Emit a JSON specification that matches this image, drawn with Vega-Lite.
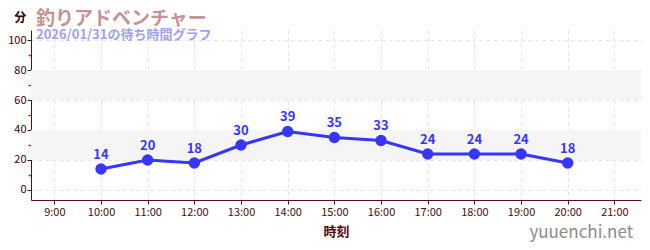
{
  "$schema": "https://vega.github.io/schema/vega-lite/v6.json",
  "width": 610,
  "height": 170,
  "autosize": {"type": "none"},
  "padding": {"left": 31, "top": 30, "right": 9, "bottom": 50},
  "background": "white",
  "config": {
    "font": "Noto Sans CJK JP",
    "view": {"stroke": null}
  },
  "title": {
    "text": "釣りアドベンチャー",
    "subtitle": "2026/01/31の待ち時間グラフ",
    "anchor": "start",
    "frame": "group",
    "orient": "top",
    "offset": -30,
    "dx": 5,
    "font": "Noto Sans CJK JP",
    "fontSize": 19,
    "fontWeight": "bold",
    "color": "#c49494",
    "subtitleFont": "Noto Sans CJK JP",
    "subtitleFontSize": 13,
    "subtitleFontWeight": "bold",
    "subtitleColor": "#9f9ff0",
    "subtitlePadding": 0
  },
  "datasets": {
    "waits": [
      {"hour": 10, "wait": 14},
      {"hour": 11, "wait": 20},
      {"hour": 12, "wait": 18},
      {"hour": 13, "wait": 30},
      {"hour": 14, "wait": 39},
      {"hour": 15, "wait": 35},
      {"hour": 16, "wait": 33},
      {"hour": 17, "wait": 24},
      {"hour": 18, "wait": 24},
      {"hour": 19, "wait": 24},
      {"hour": 20, "wait": 18}
    ],
    "bands": [
      {"lo": 20, "hi": 40},
      {"lo": 60, "hi": 80}
    ]
  },
  "layer": [
    {
      "data": {"name": "bands"},
      "mark": {"type": "rect", "fill": "#f5f5f5"},
      "encoding": {
        "y": {
          "field": "lo", "type": "quantitative",
          "scale": {"domain": [-6.7, 106.7], "nice": false, "zero": false},
          "axis": {
            "orient": "left",
            "values": [10, 30, 50, 70, 90],
            "labels": false,
            "title": null,
            "domain": false,
            "grid": false,
            "tickColor": "#ee1111",
            "tickWidth": 1.5,
            "tickSize": 3
          }
        },
        "y2": {"field": "hi"}
      }
    },
    {
      "data": {"name": "waits"},
      "mark": {"type": "line", "color": "#3636ff", "strokeWidth": 3},
      "encoding": {
        "x": {
          "field": "hour", "type": "quantitative",
          "scale": {"domain": [8.5, 21.57], "nice": false, "zero": false},
          "axis": {
            "values": [9, 10, 11, 12, 13, 14, 15, 16, 17, 18, 19, 20, 21],
            "labelExpr": "datum.value + ':00'",
            "title": "時刻",
            "titleFontSize": 13,
            "titleFontWeight": "bold",
            "titleColor": "#4d0a0a",
            "titlePadding": 8,
            "labelFontSize": 11,
            "labelColor": "#4d0a0a",
            "labelPadding": 2,
            "domainColor": "#5a0f0f",
            "tickColor": "#5a0f0f",
            "tickSize": 4,
            "grid": true,
            "gridColor": "#e4e4e4",
            "gridDash": [4, 3]
          }
        },
        "y": {
          "field": "wait", "type": "quantitative",
          "scale": {"domain": [-6.7, 106.7], "nice": false, "zero": false},
          "axis": {
            "orient": "left",
            "values": [0, 20, 40, 60, 80, 100],
            "title": null,
            "labelFontSize": 11,
            "labelColor": "#330000",
            "labelPadding": 1,
            "domainColor": "#5a0f0f",
            "tickColor": "#222222",
            "tickSize": 4,
            "grid": true,
            "gridColor": "#e4e4e4",
            "gridDash": [4, 3]
          }
        }
      }
    },
    {
      "data": {"name": "waits"},
      "mark": {"type": "point", "filled": true, "opacity": 1, "color": "#3636ff", "size": 130},
      "encoding": {
        "x": {"field": "hour", "type": "quantitative", "axis": null},
        "y": {"field": "wait", "type": "quantitative", "axis": null}
      }
    },
    {
      "data": {"name": "waits"},
      "mark": {"type": "text", "color": "#3636ff", "fontSize": 13, "fontWeight": "bold", "dy": -14},
      "encoding": {
        "x": {"field": "hour", "type": "quantitative", "axis": null},
        "y": {"field": "wait", "type": "quantitative", "axis": null},
        "text": {"field": "wait", "type": "quantitative"}
      }
    },
    {
      "data": {"values": [{"unit": "分"}]},
      "mark": {"type": "text", "color": "#330000", "fontSize": 12, "fontWeight": "bold", "align": "center", "baseline": "middle", "clip": false},
      "encoding": {
        "x": {"datum": 8.27, "type": "quantitative", "axis": null},
        "y": {"datum": 115, "type": "quantitative", "axis": null},
        "text": {"field": "unit"}
      }
    },
    {
      "data": {"values": [{"site": "yuuenchi.net"}]},
      "mark": {"type": "text", "color": "#8a8a8a", "fontSize": 17, "align": "right", "baseline": "middle", "clip": false},
      "encoding": {
        "x": {"datum": 21.4, "type": "quantitative", "axis": null},
        "y": {"datum": -28.7, "type": "quantitative", "axis": null},
        "text": {"field": "site"}
      }
    }
  ],
  "resolve": {"axis": {"y": "independent", "x": "independent"}}
}
